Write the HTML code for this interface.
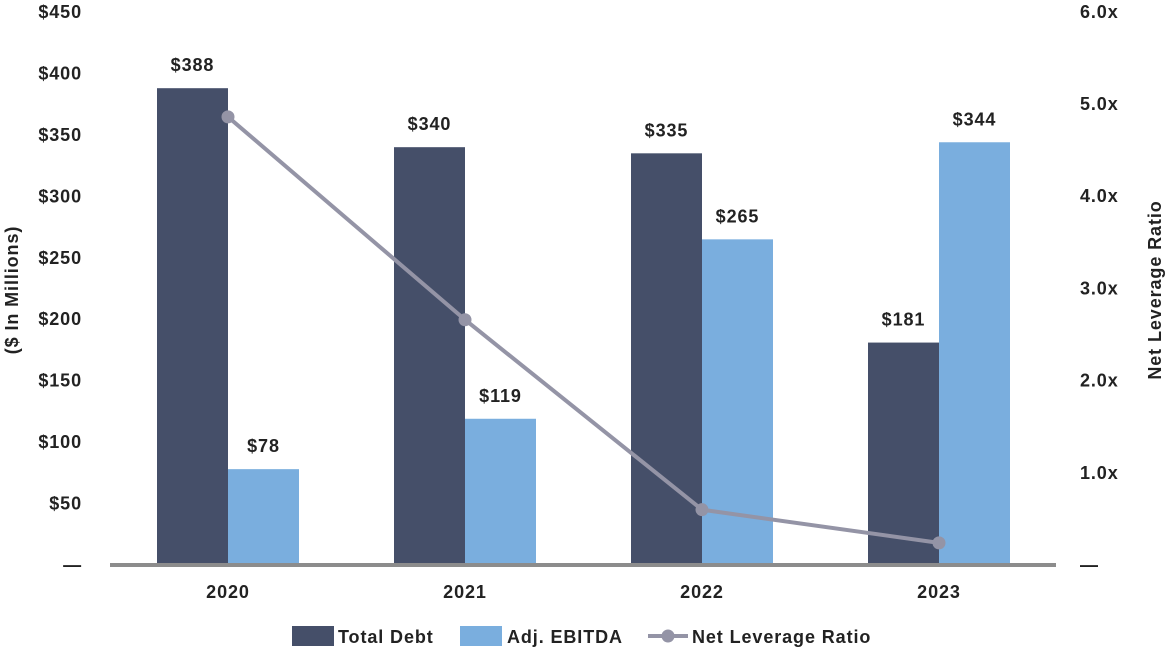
<!DOCTYPE html>
<html><head><meta charset="utf-8"><style>
body{margin:0;background:#fff;}
svg text{font-family:"Liberation Sans",sans-serif;font-weight:bold;fill:#222;letter-spacing:0.9px;}
</style></head><body>
<svg id="chart" width="1167" height="650" viewBox="0 0 1167 650" xmlns="http://www.w3.org/2000/svg"></svg>
<script>
const categories=["2020","2021","2022","2023"];
const totalDebt=[388,340,335,181];
const ebitda=[78,119,265,344];
const leverage=[4.86,2.66,0.60,0.24];
const leftTicks=[0,50,100,150,200,250,300,350,400,450];
const rightTicks=[1,2,3,4,5,6];

const svg=document.getElementById('chart');
const NS='http://www.w3.org/2000/svg';
const y0=565;
const yL=v=>y0-v*(553/450);
const yR=v=>y0-v*92.2;
const xC=i=>228+i*237;
const bw=71;
const FS=18;
function mk(tag,attrs,parent){const e=document.createElementNS(NS,tag);for(const k in attrs)e.setAttribute(k,attrs[k]);(parent||svg).appendChild(e);return e;}
function txt(x,y,s,size,anchor,parent){const t=mk('text',{x:x,y:y,'font-size':size,'text-anchor':anchor||'middle'},parent);t.textContent=s;return t;}

leftTicks.forEach(v=>{
  const t=txt(82,yL(v)+6,v===0?'—':'$'+v,FS,'end');
  
  
});
rightTicks.forEach(v=>{
  const t=txt(1080,yR(v)+6,v.toFixed(1)+'x',FS,'start');
  
  
});
const zr=txt(1080,y0+6,'—',FS,'start');



const lt=txt(0,0,'($ In Millions)',FS,'middle');
lt.setAttribute('transform','translate(18,290) rotate(-90)');


const rt=txt(0,0,'Net Leverage Ratio',FS,'middle');
rt.setAttribute('transform','translate(1161,290) rotate(-90)');



categories.forEach((c,i)=>{
  const x=xC(i);
  const b1=mk('rect',{x:x-bw,y:yL(totalDebt[i]),width:bw,height:y0-yL(totalDebt[i]),fill:'#454f69'});
  
  
  const b2=mk('rect',{x:x,y:yL(ebitda[i]),width:bw,height:y0-yL(ebitda[i]),fill:'#7aaede'});
  
  
  const l1=txt(x-bw/2,yL(totalDebt[i])-17,'$'+totalDebt[i],FS);
  
  
  const l2=txt(x+bw/2,yL(ebitda[i])-17,'$'+ebitda[i],FS);
  
  
  const cl=txt(x,598,c,FS);
  
  
});

const axis=mk('line',{x1:110,x2:1056,y1:y0,y2:y0,stroke:'#8c8c8c','stroke-width':4});



const pl=mk('polyline',{points:leverage.map((v,i)=>xC(i)+','+yR(v)).join(' '),fill:'none',stroke:'#9494a6','stroke-width':4});


leverage.forEach((v,i)=>{
  const c=mk('circle',{cx:xC(i),cy:yR(v),r:6.5,fill:'#9494a6'});
  
  
});

const lg=mk('g',{});


const s1=mk('rect',{x:292,y:626,width:42,height:20,fill:'#454f69'},lg);


const t1=txt(338,643,'Total Debt',FS,'start',lg);


const s2=mk('rect',{x:460,y:626,width:42,height:20,fill:'#7aaede'},lg);


const t2=txt(507,643,'Adj. EBITDA',FS,'start',lg);


const s3=mk('line',{x1:648,x2:688,y1:636,y2:636,stroke:'#9494a6','stroke-width':4},lg);


const s3c=mk('circle',{cx:668,cy:636,r:6.5,fill:'#9494a6'},lg);


const t3=txt(692,643,'Net Leverage Ratio',FS,'start',lg);


</script>
</body></html>
